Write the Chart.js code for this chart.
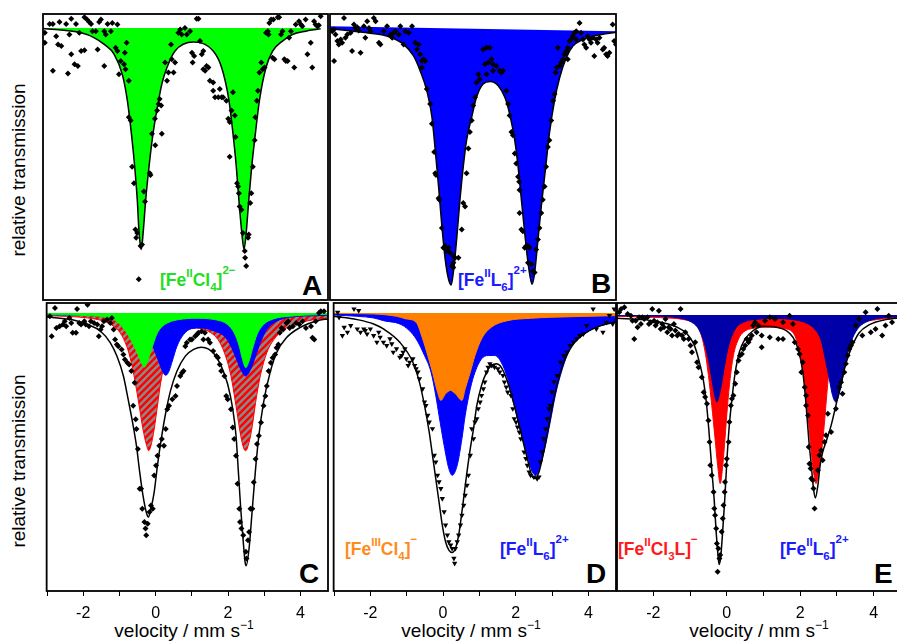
<!DOCTYPE html>
<html><head><meta charset="utf-8">
<script src="https://cdn.jsdelivr.net/npm/chart.js@4.4.1/dist/chart.umd.min.js"></script>
<style>
html,body{margin:0;padding:0;width:897px;height:642px;overflow:hidden;background:#fff;}
body{position:relative;font-family:'Liberation Sans',Arial,sans-serif;}
canvas{position:absolute;}
.t{position:absolute;white-space:nowrap;color:#000;}
.yl{font-size:19px;line-height:20px;width:240px;text-align:center;transform:rotate(-90deg);}
.xl{font-size:19px;line-height:19px;width:240px;text-align:center;}
.xl .u{font-size:12px;position:relative;top:-8px;}
.pl{font-size:28px;line-height:28px;font-weight:bold;}
.cl{font-size:17.5px;line-height:17px;font-weight:bold;}
.cl .u{font-size:11.5px;position:relative;}
</style></head><body>
<div class="t yl" style="left:-101px;top:160px">relative transmission</div>
<div class="t yl" style="left:-101px;top:451px">relative transmission</div>
<div class="t xl" style="left:64px;top:621px">velocity / mm s<span class="u">−1</span></div>
<div class="t xl" style="left:351px;top:621px">velocity / mm s<span class="u">−1</span></div>
<div class="t xl" style="left:639px;top:621px">velocity / mm s<span class="u">−1</span></div>
<div class="t pl" style="left:302px;top:272px">A</div>
<div class="t pl" style="left:591px;top:270px">B</div>
<div class="t pl" style="left:299px;top:560px">C</div>
<div class="t pl" style="left:586px;top:560px">D</div>
<div class="t pl" style="left:874px;top:560px">E</div>
<div class="t cl" style="left:160px;top:272px;color:#22dd22">[Fe<span class="u" style="top:-9px">II</span>Cl<span class="u" style="top:5px">4</span>]<span class="u" style="top:-12px">2−</span></div>
<div class="t cl" style="left:458px;top:272px;color:#1a1aff">[Fe<span class="u" style="top:-9px">II</span>L<span class="u" style="top:5px">6</span>]<span class="u" style="top:-12px">2+</span></div>
<div class="t cl" style="left:345px;top:541px;color:#ff8c1a">[Fe<span class="u" style="top:-9px">III</span>Cl<span class="u" style="top:5px">4</span>]<span class="u" style="top:-12px">−</span></div>
<div class="t cl" style="left:500px;top:541px;color:#1a1aff">[Fe<span class="u" style="top:-9px">II</span>L<span class="u" style="top:5px">6</span>]<span class="u" style="top:-12px">2+</span></div>
<div class="t cl" style="left:618px;top:541px;color:#ff1a1a">[Fe<span class="u" style="top:-9px">II</span>Cl<span class="u" style="top:5px">3</span>L]<span class="u" style="top:-12px">−</span></div>
<div class="t cl" style="left:780px;top:541px;color:#1a1aff">[Fe<span class="u" style="top:-9px">II</span>L<span class="u" style="top:5px">6</span>]<span class="u" style="top:-12px">2+</span></div>
<script>
// ---- data: [velocity (mm/s), relative transmission] ----
const xTickLabels = [-2, 0, 2, 4];

const ptsA = [[-2.83,1.0012],[-2.74,1.0012],[-2.56,1.0018],[-2.38,1.0012],[-2.24,1.0028],[-2.11,1.0012],[-1.88,1.0032],[-1.81,1.0025],[-1.75,1.0018],[-1.70,1.0012],[-1.48,1.0018],[-1.43,1.0025],[-1.25,1.0012],[-1.12,1.0015],[-0.98,1.0010],
[-2.96,0.9985],[-2.96,0.9955],[-2.65,0.9975],[-2.60,0.9950],[-2.51,0.9945],[-2.29,0.9980],[-2.02,0.9985],[-1.97,0.9930],[-1.88,0.9932],
[-2.74,0.9870],[-2.33,0.9862],[-2.24,0.9920],[-2.15,0.9890],[-2.06,0.9885],[-1.52,0.9935],[-1.34,0.9885],
[-1.66,0.9990],[-1.57,0.9990],[-1.34,0.9990],[-1.30,0.9980],[-1.16,0.9990],[-1.03,0.9940],[-0.98,0.9930],[-0.89,0.9900],[-0.94,0.9860],[-0.80,0.9890],[-0.76,0.9875],[-0.73,0.9955],[-0.67,0.9840],[-0.78,0.9925],
[-0.67,0.9730],[-0.62,0.9720],[-0.58,0.9580],[-0.53,0.9530],[-0.49,0.9390],[-0.44,0.9380],[-0.47,0.9365],[-0.35,0.9340],[-0.31,0.9345],[-0.40,0.9240],[-0.26,0.9505],[-0.23,0.9475],[-0.10,0.9560],[-0.08,0.9555],[-0.04,0.9680],[0.05,0.9645],[0.10,0.9750],[0.14,0.9770],[0.21,0.9765],[0.23,0.9680],[0.17,0.9785],[0.04,0.9725],
[0.32,0.9895],[0.37,0.9840],[0.41,0.9865],[0.50,0.9905],[0.48,0.9950],[0.55,0.9865],[0.59,0.9895],[0.68,0.9985],[0.73,0.9995],[0.77,0.9980],[0.86,1.0000],[0.91,0.9980],[1.00,0.9990],[1.05,0.9925],[1.07,0.9895],[1.11,0.9915],[1.18,1.0028],[1.23,1.0028],[1.27,0.9960],[1.36,0.9930],[1.32,0.9920],[1.36,0.9875],[1.41,0.9870],[1.45,0.9885],[1.50,0.9880],[1.54,0.9840],[1.63,0.9835],[1.63,0.9810],[1.68,0.9790],[1.77,0.9790],[1.81,0.9815],[1.86,0.9790],[1.90,0.9790],[1.99,0.9780],[2.04,0.9725],[2.08,0.9715],[2.13,0.9750],[2.17,0.9805],[2.08,0.9610],
[2.22,0.9735],[2.24,0.9670],[2.28,0.9530],[2.31,0.9520],[2.33,0.9500],[2.35,0.9460],[2.40,0.9450],[2.44,0.9380],[2.49,0.9325],[2.50,0.9305],[2.53,0.9280],[2.58,0.9365],[2.60,0.9375],[2.64,0.9470],[2.67,0.9500],[2.71,0.9580],[2.76,0.9660],[2.78,0.9730],[2.82,0.9780],[2.85,0.9810],[2.89,0.9865],[2.94,0.9895],[2.98,0.9875],[3.03,0.9880],[3.07,0.9985],[3.12,0.9990],[3.14,0.9980],[3.16,1.0015],[3.21,1.0025],[3.27,1.0025],[3.25,0.9910],[3.30,0.9905],[3.39,1.0032],[3.43,1.0032],[3.48,0.9980],[3.52,0.9990],[3.57,0.9905],[3.61,0.9900],[3.66,0.9900],[3.70,0.9970],[3.75,0.9990],[3.84,0.9880],[3.88,1.0010],[3.97,1.0020],[4.02,1.0010],[4.06,1.0005],[4.15,1.0025],[4.20,0.9920],[4.29,0.9955],[4.33,0.9880],[4.38,1.0020],[4.42,1.0010],[4.47,1.0005],[4.51,1.0008],[4.56,1.0035]];

const fitA = [[-3.01,0.9998],[-1.97,0.9985],[-1.61,0.9970],[-1.34,0.9950],[-1.07,0.9920],[-0.85,0.9860],[-0.71,0.9780],[-0.60,0.9680],[-0.51,0.9580],[-0.44,0.9480],[-0.39,0.9380],[-0.33,0.9330],[-0.28,0.9380],[-0.21,0.9480],[-0.12,0.9580],[-0.01,0.9680],[0.14,0.9780],[0.23,0.9830],[0.37,0.9880],[0.59,0.9930],[1.09,0.9957],[1.63,0.9930],[1.86,0.9880],[2.06,0.9780],[2.17,0.9680],[2.26,0.9580],[2.33,0.9480],[2.41,0.9380],[2.47,0.9330],[2.53,0.9380],[2.60,0.9480],[2.68,0.9580],[2.78,0.9680],[2.89,0.9780],[3.07,0.9880],[3.25,0.9930],[3.52,0.9960],[3.79,0.9980],[4.15,0.9990],[4.56,0.9997]];

const ptsB = [[-2.90,0.9993],[-2.86,0.9978],[-2.81,0.9958],[-2.77,0.9948],[-2.72,0.9963],[-2.68,0.9953],[-2.63,1.0028],[-2.59,0.9968],[-2.54,0.9978],[-2.45,0.9983],[-2.41,0.9928],[-2.36,1.0008],[-2.32,0.9998],[-2.27,1.0000],[-2.23,0.9990],[-2.18,0.9923],[-2.09,1.0003],[-2.05,0.9968],[-2.00,1.0018],[-1.95,0.9998],[-1.91,0.9988],[-1.82,1.0028],[-1.77,1.0018],[-1.68,0.9953],[-1.64,0.9948],[-1.55,0.9988],[-1.46,1.0003],[-1.37,0.9978],[-1.32,0.9968],[-1.28,0.9983],[-1.23,0.9988],[-1.14,0.9978],[-1.10,1.0003],[-1.01,0.9948],[-0.96,0.9988],[-0.87,0.9983],[-0.78,1.0003],[-0.69,0.9953],[-0.60,0.9948],[-0.65,0.9933],[-0.56,0.9918],[-0.47,0.9903],[-0.51,0.9898],[-0.42,0.9898],[-0.51,0.9878],[-2.90,0.9898],[-2.95,0.9988],
[-0.38,0.9813],[-0.29,0.9768],[-0.24,0.9708],[-0.18,0.9623],[-0.15,0.9558],[-0.13,0.9553],[-0.06,0.9483],[-0.04,0.9478],[0.03,0.9393],[0.07,0.9333],[0.12,0.9338],[0.16,0.9323],[0.21,0.9333],[0.25,0.9318],[0.34,0.9308],[0.39,0.9303],[0.34,0.9288],[0.30,0.9278],[0.34,0.9273],[0.48,0.9303],[0.57,0.9388],[0.61,0.9468],[0.66,0.9458],[0.70,0.9558],[0.75,0.9633],[0.79,0.9683],[0.84,0.9718],[0.88,0.9763],[0.93,0.9788],[0.97,0.9833],[1.02,0.9858],[1.06,0.9843],
[1.15,0.9933],[1.24,0.9938],[1.33,0.9938],[1.20,0.9888],[1.29,0.9893],[1.38,0.9903],[1.42,0.9888],[1.51,0.9883],[1.60,0.9868],[1.65,0.9863],[1.69,0.9868],[1.42,0.9868],[1.24,0.9858],[1.78,0.9808],[1.83,0.9768],[1.87,0.9733],[1.92,0.9683],[1.96,0.9673],[2.01,0.9618],[2.05,0.9588],[2.10,0.9548],[2.13,0.9533],[2.14,0.9508],[2.14,0.9438],[2.19,0.9388],[2.23,0.9383],[2.28,0.9333],[2.32,0.9338],[2.37,0.9338],[2.41,0.9333],[2.37,0.9288],[2.46,0.9283],[2.50,0.9263],[2.55,0.9258],[2.59,0.9328],[2.64,0.9358],[2.68,0.9393],[2.73,0.9438],[2.77,0.9478],[2.82,0.9518],[2.86,0.9578],[2.91,0.9638],[2.95,0.9658],[3.00,0.9718],[3.05,0.9778],[3.09,0.9798],[3.12,0.9863],[3.15,0.9878],[3.18,0.9938],[3.23,0.9883],[3.27,0.9893],[3.32,0.9903],[3.36,0.9918],[3.41,0.9928],[3.45,0.9938],[3.45,0.9903],[3.50,0.9958],[3.54,0.9963],[3.59,0.9973],[3.63,0.9983],[3.68,0.9988],[3.77,1.0013],[3.81,0.9983],[3.86,0.9963],[3.90,0.9948],[3.95,0.9938],[3.99,0.9973],[4.04,0.9963],[4.08,0.9953],[4.13,0.9968],[4.17,0.9913],[4.22,0.9963],[4.26,0.9953],[4.31,0.9968],[4.40,0.9933],[4.44,0.9938],[4.49,0.9918],[4.53,0.9913],[4.58,0.9923],[4.67,1.0008],[4.71,0.9958],[4.76,0.9948],[3.68,0.9963]];

const fitB = [[-3.01,0.9996],[-2.36,0.9988],[-1.91,0.9982],[-1.46,0.9973],[-1.01,0.9948],[-0.74,0.9913],[-0.56,0.9868],[-0.38,0.9808],[-0.24,0.9728],[-0.15,0.9628],[-0.06,0.9518],[0.03,0.9398],[0.12,0.9298],[0.21,0.9238],[0.28,0.9220],[0.34,0.9258],[0.43,0.9358],[0.52,0.9478],[0.61,0.9578],[0.70,0.9658],[0.84,0.9728],[0.97,0.9788],[1.15,0.9828],[1.35,0.9836],[1.56,0.9823],[1.74,0.9788],[1.87,0.9738],[2.01,0.9658],[2.10,0.9578],[2.19,0.9478],[2.28,0.9378],[2.37,0.9288],[2.48,0.9223],[2.55,0.9258],[2.64,0.9358],[2.73,0.9458],[2.85,0.9578],[2.95,0.9678],[3.09,0.9778],[3.23,0.9848],[3.41,0.9908],[3.59,0.9943],[3.86,0.9963],[4.22,0.9975],[4.76,0.9985]];
const baseB = [[-3.01,1.0003],[4.76,0.9988]];

const ptsC = [[-2.92,0.9990],[-2.87,0.9930],[-2.78,1.0015],[-2.74,0.9955],[-2.65,0.9960],[-2.56,0.9965],[-2.51,0.9975],[-2.47,0.9960],[-2.38,0.9985],[-2.33,0.9970],[-2.29,0.9940],[-2.20,0.9940],[-2.17,1.0012],[-2.11,0.9970],[-2.06,0.9965],[-1.97,0.9975],[-1.93,0.9965],[-1.88,1.0025],[-1.84,0.9960],[-1.79,0.9975],[-1.70,0.9970],[-1.61,0.9965],[-1.57,0.9930],[-1.52,0.9950],[-1.48,0.9960],[-1.43,0.9975],[-1.34,0.9980],[-1.25,0.9970],[-1.21,0.9985],[-1.16,0.9950],[-1.12,0.9920],[-1.07,0.9905],[-1.03,0.9900],[-0.94,0.9890],[-0.89,0.9875],[-0.85,0.9860],[-0.78,0.9850],[-0.73,0.9845],[-0.67,0.9825],[-0.62,0.9720],[-0.55,0.9680],[-0.58,0.9790],[-0.53,0.9650],[-0.49,0.9590],[-0.44,0.9470],[-0.40,0.9470],[-0.37,0.9410],[-0.31,0.9370],[-0.28,0.9350],[-0.26,0.9330],[-0.22,0.9365],[-0.17,0.9400],[-0.13,0.9420],[-0.08,0.9410],[-0.04,0.9510],[0.01,0.9540],[0.05,0.9570],[0.10,0.9600],[0.17,0.9620],[0.23,0.9600],[0.28,0.9650],[0.32,0.9710],[0.37,0.9720],[0.46,0.9740],[0.55,0.9750],[0.59,0.9780],[0.68,0.9810],[0.73,0.9820],[0.77,0.9825],[0.82,0.9900],[0.86,0.9910],[0.95,0.9920],[1.00,0.9920],[1.09,0.9930],[1.14,0.9935],[1.18,0.9940],[1.27,0.9945],[1.32,0.9920],[1.36,0.9940],[1.45,0.9920],[1.50,0.9910],[1.59,0.9885],[1.68,0.9870],[1.72,0.9865],[1.77,0.9845],[1.81,0.9825],[1.90,0.9810],[1.95,0.9750],[1.99,0.9740],[2.08,0.9710],[2.13,0.9655],[2.17,0.9620],[2.22,0.9570],[2.26,0.9485],[2.31,0.9410],[2.33,0.9370],[2.37,0.9350],[2.42,0.9330],[2.49,0.9280],[2.51,0.9260],[2.55,0.9315],[2.58,0.9340],[2.62,0.9410],[2.67,0.9410],[2.71,0.9490],[2.76,0.9560],[2.80,0.9605],[2.85,0.9630],[2.91,0.9670],[2.98,0.9720],[3.03,0.9750],[3.07,0.9780],[3.12,0.9825],[3.18,0.9850],[3.23,0.9865],[3.30,0.9875],[3.34,0.9895],[3.39,0.9905],[3.43,0.9940],[3.48,0.9955],[3.52,0.9950],[3.61,0.9970],[3.66,0.9975],[3.70,0.9955],[3.79,0.9960],[3.88,0.9970],[3.97,0.9965],[4.06,0.9975],[4.15,0.9955],[4.29,0.9960],[4.33,0.9925],[4.38,0.9920],[4.42,0.9975],[4.51,1.0000],[4.56,1.0005],[4.65,1.0005]];

const totC = [[-3.01,0.9988],[-2.33,0.9980],[-1.88,0.9965],[-1.52,0.9945],[-1.25,0.9910],[-1.07,0.9870],[-0.89,0.9810],[-0.76,0.9740],[-0.62,0.9660],[-0.53,0.9600],[-0.44,0.9520],[-0.35,0.9450],[-0.26,0.9400],[-0.20,0.9385],[-0.13,0.9410],[-0.04,0.9460],[0.05,0.9540],[0.17,0.9630],[0.28,0.9700],[0.41,0.9765],[0.59,0.9825],[0.82,0.9870],[1.05,0.9890],[1.27,0.9897],[1.45,0.9892],[1.63,0.9875],[1.81,0.9840],[1.99,0.9785],[2.13,0.9710],[2.22,0.9630],[2.28,0.9530],[2.35,0.9410],[2.42,0.9310],[2.47,0.9250],[2.50,0.9238],[2.58,0.9290],[2.67,0.9410],[2.76,0.9530],[2.85,0.9630],[2.98,0.9730],[3.16,0.9820],[3.34,0.9880],[3.61,0.9925],[3.97,0.9955],[4.51,0.9978],[4.76,0.9982]];
const greenC = [[-3.01,0.9995],[-1.88,0.9992],[-1.43,0.9988],[-1.16,0.9980],[-0.98,0.9965],[-0.80,0.9940],[-0.62,0.9905],[-0.49,0.9875],[-0.37,0.9845],[-0.31,0.9837],[-0.24,0.9850],[-0.13,0.9885],[-0.04,0.9915],[0.05,0.9940],[0.19,0.9960],[0.37,0.9972],[0.64,0.9980],[1.09,0.9984],[1.63,0.9980],[1.99,0.9965],[2.17,0.9940],[2.31,0.9900],[2.40,0.9860],[2.49,0.9835],[2.58,0.9855],[2.67,0.9890],[2.80,0.9935],[2.98,0.9965],[3.25,0.9982],[3.70,0.9990],[4.51,0.9995],[4.76,0.9996]];
const blueC = [[-3.01,0.9994],[-1.43,0.9990],[-0.71,0.9980],[-0.35,0.9960],[-0.17,0.9930],[-0.04,0.9890],[0.10,0.9850],[0.21,0.9820],[0.28,0.9812],[0.37,0.9825],[0.46,0.9855],[0.59,0.9900],[0.77,0.9935],[1.00,0.9953],[1.27,0.9955],[1.63,0.9945],[1.90,0.9930],[2.08,0.9900],[2.22,0.9865],[2.35,0.9830],[2.49,0.9810],[2.62,0.9830],[2.76,0.9870],[2.89,0.9910],[3.07,0.9950],[3.34,0.9975],[3.70,0.9987],[4.51,0.9992],[4.76,0.9993]];
const redC = [[-3.01,0.9992],[-1.88,0.9985],[-1.43,0.9975],[-1.16,0.9960],[-0.98,0.9940],[-0.80,0.9900],[-0.67,0.9850],[-0.53,0.9770],[-0.44,0.9710],[-0.35,0.9650],[-0.26,0.9605],[-0.19,0.9585],[-0.13,0.9600],[-0.04,0.9650],[0.05,0.9720],[0.14,0.9790],[0.28,0.9860],[0.46,0.9910],[0.73,0.9940],[1.09,0.9955],[1.45,0.9945],[1.72,0.9920],[1.90,0.9880],[2.08,0.9810],[2.22,0.9720],[2.35,0.9630],[2.44,0.9590],[2.49,0.9585],[2.58,0.9610],[2.67,0.9660],[2.76,0.9730],[2.89,0.9810],[3.07,0.9880],[3.34,0.9930],[3.70,0.9960],[4.15,0.9975],[4.51,0.9982],[4.76,0.9985]];

const ptsD = [[-2.90,1.0002],[-2.86,0.9987],[-2.77,0.9932],[-2.72,0.9957],[-2.63,0.9942],[-2.54,0.9962],[-2.45,1.0012],[-2.36,0.9952],[-2.32,1.0007],[-2.27,0.9942],[-2.18,0.9952],[-2.14,0.9947],[-2.09,0.9937],[-2.00,0.9952],[-1.91,0.9932],[-1.82,0.9912],[-1.77,0.9942],[-1.73,0.9927],[-1.64,0.9912],[-1.55,0.9902],[-1.46,0.9922],[-1.41,0.9907],[-1.37,0.9882],[-1.28,0.9892],[-1.19,0.9867],[-1.14,0.9872],[-1.10,0.9882],[-1.05,0.9892],[-1.01,0.9862],[-0.96,0.9842],[-0.92,0.9852],[-0.83,0.9862],[-0.78,0.9842],[-0.74,0.9832],[-0.69,0.9822],[-0.65,0.9802],[-0.56,0.9772],[-0.51,0.9732],[-0.47,0.9722],[-0.42,0.9692],[-0.38,0.9672],[-0.29,0.9652],[-0.24,0.9572],[-0.20,0.9552],[-0.15,0.9512],[-0.11,0.9492],[-0.06,0.9472],[-0.02,0.9442],[0.03,0.9402],[0.07,0.9362],[0.12,0.9332],[0.16,0.9312],[0.21,0.9302],[0.25,0.9292],[0.30,0.9262],[0.32,0.9247],[0.34,0.9292],[0.39,0.9312],[0.43,0.9332],[0.48,0.9362],[0.52,0.9392],[0.57,0.9422],[0.61,0.9452],[0.66,0.9482],[0.70,0.9512],[0.75,0.9572],[0.79,0.9652],[0.84,0.9622],[0.88,0.9672],[0.93,0.9682],[0.97,0.9712],[1.02,0.9732],[1.06,0.9752],[1.11,0.9772],[1.15,0.9792],[1.20,0.9822],[1.24,0.9837],[1.29,0.9847],[1.33,0.9842],[1.38,0.9842],[1.42,0.9837],[1.51,0.9832],[1.56,0.9822],[1.65,0.9812],[1.69,0.9792],[1.74,0.9777],[1.78,0.9762],[1.87,0.9752],[1.92,0.9712],[1.96,0.9682],[2.01,0.9672],[2.05,0.9657],[2.10,0.9642],[2.14,0.9622],[2.23,0.9582],[2.28,0.9562],[2.32,0.9542],[2.37,0.9522],[2.41,0.9512],[2.50,0.9507],[2.59,0.9502],[2.64,0.9507],[2.68,0.9552],[2.73,0.9582],[2.77,0.9622],[2.82,0.9652],[2.86,0.9682],[2.91,0.9712],[2.95,0.9722],[3.00,0.9762],[3.05,0.9792],[3.14,0.9812],[3.23,0.9852],[3.32,0.9872],[3.41,0.9882],[3.50,0.9902],[3.59,0.9912],[3.68,0.9922],[3.77,0.9932],[3.86,0.9937],[3.95,0.9962],[4.13,1.0012],[4.22,0.9952],[4.40,0.9942],[4.49,0.9972],[4.58,0.9992],[4.67,0.9967],[4.71,1.0012]];

const totD = [[-3.01,0.9990],[-2.36,0.9980],[-1.91,0.9967],[-1.64,0.9952],[-1.19,0.9912],[-0.83,0.9852],[-0.65,0.9792],[-0.51,0.9722],[-0.38,0.9642],[-0.29,0.9572],[-0.20,0.9502],[-0.11,0.9432],[-0.02,0.9362],[0.07,0.9312],[0.16,0.9287],[0.25,0.9280],[0.34,0.9292],[0.43,0.9332],[0.52,0.9402],[0.59,0.9462],[0.66,0.9522],[0.75,0.9592],[0.84,0.9652],[0.93,0.9722],[1.06,0.9782],[1.20,0.9822],[1.33,0.9842],[1.47,0.9847],[1.60,0.9837],[1.78,0.9792],[1.96,0.9722],[2.14,0.9642],[2.32,0.9562],[2.46,0.9507],[2.53,0.9502],[2.64,0.9522],[2.77,0.9582],[2.91,0.9662],[3.05,0.9742],[3.18,0.9802],[3.36,0.9862],[3.59,0.9907],[3.95,0.9942],[4.40,0.9964],[4.76,0.9974]];
const orangeD = [[-3.01,0.9999],[-1.91,0.9997],[-1.28,0.9990],[-1.01,0.9982],[-0.74,0.9972],[-0.56,0.9922],[-0.42,0.9872],[-0.29,0.9822],[-0.15,0.9762],[-0.06,0.9737],[0.07,0.9757],[0.21,0.9767],[0.34,0.9757],[0.52,0.9737],[0.61,0.9772],[0.75,0.9822],[0.88,0.9872],[1.06,0.9922],[1.33,0.9957],[1.78,0.9977],[2.41,0.9984],[2.95,0.9987],[4.76,0.9992]];
const blueD = [[-3.01,0.9994],[-2.36,0.9990],[-1.91,0.9985],[-1.64,0.9977],[-1.10,0.9962],[-0.74,0.9922],[-0.51,0.9872],[-0.33,0.9822],[-0.20,0.9752],[-0.11,0.9692],[0.03,0.9602],[0.16,0.9532],[0.25,0.9512],[0.39,0.9542],[0.52,0.9622],[0.61,0.9692],[0.75,0.9772],[0.88,0.9822],[1.06,0.9862],[1.24,0.9872],[1.42,0.9872],[1.60,0.9852],[1.78,0.9802],[1.96,0.9722],[2.14,0.9642],[2.32,0.9572],[2.46,0.9522],[2.55,0.9512],[2.68,0.9542],[2.82,0.9602],[2.95,0.9672],[3.09,0.9752],[3.23,0.9812],[3.45,0.9882],[3.77,0.9927],[4.22,0.9957],[4.76,0.9972]];

const ptsE = [[-2.93,1.0008],[-2.88,1.0018],[-2.79,1.0023],[-2.70,1.0003],[-2.61,0.9998],[-2.57,0.9983],[-2.52,0.9928],[-2.48,0.9983],[-2.43,0.9963],[-2.39,0.9993],[-2.34,0.9973],[-2.30,0.9993],[-2.25,0.9988],[-2.16,0.9993],[-2.12,0.9973],[-2.07,0.9978],[-2.03,1.0018],[-1.98,0.9983],[-1.94,0.9968],[-1.89,0.9978],[-1.85,1.0013],[-1.80,0.9958],[-1.76,0.9973],[-1.71,0.9963],[-1.67,0.9988],[-1.62,0.9948],[-1.58,0.9963],[-1.53,0.9958],[-1.49,0.9938],[-1.44,0.9973],[-1.40,0.9953],[-1.35,0.9938],[-1.31,0.9943],[-1.26,1.0018],[-1.22,0.9938],[-1.17,0.9928],[-1.13,0.9948],[-1.04,0.9928],[-0.99,0.9908],[-0.95,0.9888],[-0.86,0.9918],[-0.81,0.9858],[-0.77,0.9843],[-0.68,0.9813],[-0.63,0.9768],[-0.59,0.9753],[-0.54,0.9733],[-0.50,0.9683],[-0.47,0.9618],[-0.45,0.9548],[-0.41,0.9518],[-0.36,0.9468],[-0.34,0.9418],[-0.32,0.9398],[-0.29,0.9358],[-0.27,0.9313],[-0.23,0.9298],[-0.20,0.9268],[-0.25,0.9228],[-0.18,0.9278],[-0.14,0.9348],[-0.11,0.9388],[-0.09,0.9428],[-0.06,0.9468],[-0.05,0.9498],[-0.02,0.9548],[0.00,0.9568],[0.05,0.9618],[0.07,0.9678],[0.11,0.9728],[0.14,0.9748],[0.18,0.9758],[0.23,0.9793],[0.27,0.9828],[0.32,0.9863],[0.36,0.9878],[0.41,0.9883],[0.45,0.9898],[0.50,0.9908],[0.54,0.9928],[0.59,0.9918],[0.63,0.9928],[0.68,0.9938],[0.72,0.9968],[0.77,0.9978],[0.81,0.9948],[0.86,0.9968],
[0.95,0.9938],[0.95,0.9903],[1.04,0.9983],[1.17,0.9993],[1.17,0.9933],[1.31,0.9988],[1.40,0.9928],[1.53,0.9978],[1.53,0.9928],[1.71,0.9998],[1.80,0.9973],[1.85,0.9918],[1.94,0.9898],[1.98,0.9883],[2.03,0.9828],[2.07,0.9858],[2.12,0.9783],[2.16,0.9758],[2.16,0.9728],[2.21,0.9698],[2.23,0.9603],[2.25,0.9553],[2.28,0.9538],[2.30,0.9508],[2.34,0.9503],[2.36,0.9478],[2.39,0.9418],[2.48,0.9533],[2.52,0.9578],[2.57,0.9593],[2.61,0.9563],[2.66,0.9618],[2.70,0.9638],[2.75,0.9703],[2.84,0.9648],[2.97,0.9718],[3.06,0.9783],[3.11,0.9798],[3.15,0.9763],[3.20,0.9828],[3.24,0.9853],[3.29,0.9878],[3.33,0.9898],[3.38,0.9908],[3.42,0.9918],[3.51,0.9968],[3.60,0.9988],[3.69,0.9938],[3.78,1.0008],[3.92,0.9948],[4.05,0.9958],[4.10,1.0018],[4.23,0.9938],[4.32,0.9968],[4.41,0.9998],[4.50,0.9978]];

const totE = [[-2.99,0.9990],[-2.25,0.9986],[-1.80,0.9978],[-1.35,0.9963],[-1.08,0.9943],[-0.90,0.9913],[-0.77,0.9868],[-0.63,0.9798],[-0.54,0.9718],[-0.47,0.9628],[-0.41,0.9538],[-0.34,0.9438],[-0.29,0.9348],[-0.24,0.9278],[-0.21,0.9250],[-0.17,0.9268],[-0.12,0.9338],[-0.06,0.9438],[0.00,0.9558],[0.06,0.9658],[0.14,0.9748],[0.23,0.9828],[0.34,0.9888],[0.50,0.9928],[0.72,0.9953],[0.99,0.9966],[1.35,0.9963],[1.62,0.9953],[1.80,0.9933],[1.94,0.9898],[2.07,0.9828],[2.16,0.9728],[2.23,0.9628],[2.30,0.9548],[2.36,0.9478],[2.41,0.9450],[2.48,0.9488],[2.54,0.9548],[2.61,0.9588],[2.70,0.9618],[2.84,0.9668],[2.97,0.9728],[3.11,0.9793],[3.24,0.9853],[3.42,0.9908],[3.60,0.9946],[3.87,0.9970],[4.32,0.9986],[4.77,0.9992]];
const redE = [[-2.99,0.9996],[-1.80,0.9992],[-1.17,0.9986],[-0.90,0.9976],[-0.72,0.9948],[-0.59,0.9888],[-0.50,0.9818],[-0.41,0.9728],[-0.32,0.9628],[-0.25,0.9548],[-0.18,0.9493],[-0.11,0.9548],[-0.05,0.9628],[0.02,0.9728],[0.09,0.9808],[0.18,0.9878],[0.32,0.9928],[0.45,0.9948],[0.72,0.9960],[1.17,0.9963],[1.62,0.9958],[1.85,0.9938],[1.98,0.9888],[2.12,0.9798],[2.21,0.9698],[2.30,0.9588],[2.36,0.9528],[2.43,0.9493],[2.50,0.9528],[2.58,0.9588],[2.66,0.9678],[2.72,0.9758],[2.79,0.9838],[2.90,0.9898],[3.06,0.9938],[3.33,0.9963],[3.69,0.9978],[4.23,0.9988],[4.77,0.9992]];
const blueE = [[-2.99,0.9998],[-1.80,0.9996],[-1.35,0.9992],[-0.99,0.9980],[-0.77,0.9958],[-0.59,0.9908],[-0.47,0.9848],[-0.38,0.9788],[-0.32,0.9753],[-0.27,0.9738],[-0.22,0.9753],[-0.15,0.9788],[-0.06,0.9848],[0.05,0.9908],[0.23,0.9958],[0.45,0.9978],[0.90,0.9988],[1.35,0.9990],[1.80,0.9986],[2.16,0.9976],[2.39,0.9958],[2.57,0.9923],[2.68,0.9868],[2.79,0.9808],[2.88,0.9758],[2.97,0.9738],[3.06,0.9763],[3.15,0.9808],[3.26,0.9868],[3.38,0.9918],[3.56,0.9958],[3.78,0.9978],[4.14,0.9990],[4.77,0.9995]];

// ---- rendering ----
const FONT = "'Liberation Sans', Arial, sans-serif";
const xy = a => a.map(p => ({x: p[0], y: p[1]}));
const frame = {id:'frame', afterDatasetsDraw(c){const a=c.chartArea,g=c.ctx;g.save();g.strokeStyle='#000';g.lineWidth=1.8;g.strokeRect(a.left,a.top,a.right-a.left,a.bottom-a.top);g.restore();}};

function hatch(){
  const s=7,c=document.createElement('canvas');c.width=c.height=s;const g=c.getContext('2d');
  g.fillStyle='#8a8a8a';g.fillRect(0,0,s,s);g.strokeStyle='#ff0000';g.lineWidth=2.6;g.beginPath();
  g.moveTo(-1,s+1);g.lineTo(s+1,-1);g.moveTo(-1,1);g.lineTo(1,-1);g.moveTo(s-1,s+1);g.lineTo(s+1,s-1);g.stroke();
  return g.createPattern(c,'repeat');
}
function area(arr,color,border,fill){return {data:xy(arr),borderColor:border||color,borderWidth:1,backgroundColor:color,fill:fill===undefined?{value:1}:fill,pointRadius:0,cubicInterpolationMode:'monotone'};}
function fit(arr,fillColor,fill){return {data:xy(arr),borderColor:'#000',borderWidth:1.5,backgroundColor:fillColor||'transparent',fill:fillColor?(fill===undefined?{value:1}:fill):false,pointRadius:0,cubicInterpolationMode:'monotone'};}
function pts(arr,style,r,rot){return {data:xy(arr),showLine:false,pointStyle:style,pointRadius:r,pointRotation:rot||0,pointBackgroundColor:'#000',pointBorderColor:'#000',pointBorderWidth:0};}
function invisible(arr){return {data:xy(arr),borderColor:'rgba(0,0,0,0)',borderWidth:1,pointRadius:0,fill:false};}

const P=3;
function panel(box,xr,yr,datasets,showX){
  const cv=document.createElement('canvas');
  const w=box.r-box.l+2*P, h=(box.b-box.t)+P+(showX?51:P);
  cv.width=w;cv.height=h;cv.style.left=(box.l-P)+'px';cv.style.top=(box.t-P)+'px';
  document.body.appendChild(cv);
  const xScale={type:'linear',min:xr[0],max:xr[1],display:showX,position:'bottom',
         border:{display:false},
         grid:{drawOnChartArea:false,drawTicks:true,tickLength:5,color:'#000',lineWidth:1},
         ticks:{stepSize:1,includeBounds:false,autoSkip:false,maxRotation:0,padding:8,color:'#000',font:{family:FONT,size:16},
                callback:v=>xTickLabels.includes(Math.round(v))&&Math.abs(v-Math.round(v))<1e-6?String(v):''}};
  if(showX) xScale.afterFit=s=>{s.height=51;};
  new Chart(cv,{type:'line',data:{datasets},plugins:[frame],options:{
    responsive:false,animation:false,devicePixelRatio:1,
    layout:{padding:{left:P,right:P,top:P,bottom:showX?0:P}},
    plugins:{legend:{display:false},tooltip:{enabled:false}},
    scales:{x:xScale,y:{type:'linear',min:yr[0],max:yr[1],display:false}}}});
}

const GREEN='#00ff00',BLUE='#0000ff',NAVY='#0000a8',ORANGE='#ff8000',RED='#ff0000';
panel({l:42,t:13,r:329,b:301},[-3.01,4.76],[0.9177,1.0042],[pts(ptsA,'rectRot',3),fit(fitA,GREEN)],false);
panel({l:329,t:13,r:617,b:301},[-3.01,4.76],[0.9175,1.0040],[pts(ptsB,'rectRot',3),fit(fitB,BLUE,2),invisible(baseB)],false);
panel({l:42,t:302,r:329,b:591},[-3.01,4.76],[0.9162,1.0030],[pts(ptsC,'rectRot',3),fit(totC),area(greenC,GREEN),area(blueC,BLUE),area(redC,hatch(),RED)],true);
panel({l:329,t:302,r:617,b:591},[-3.01,4.76],[0.9164,1.0030],[pts(ptsD,'triangle',3.1,180),fit(totD),area(orangeD,ORANGE),area(blueD,BLUE)],true);
panel({l:616,t:302,r:903,b:591},[-2.99,4.77],[0.9170,1.0036],[pts(ptsE,'rectRot',3),fit(totE),area(blueE,NAVY),area(redE,RED)],true);
</script>
</body></html>
